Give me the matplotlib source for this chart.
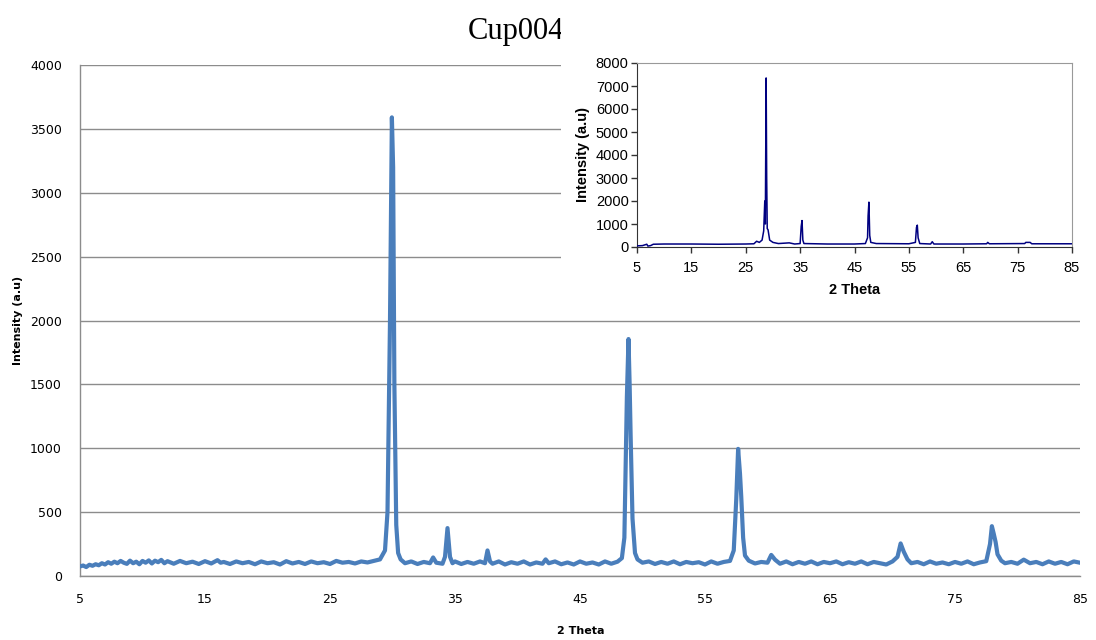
import matplotlib
matplotlib.use("Agg")
import matplotlib.pyplot as plt
from matplotlib.patches import Rectangle

# ---------------- main pattern (Cup004) ----------------
main_2theta = [
    5.0, 5.25, 5.5, 5.75, 6.0, 6.25, 6.5, 6.75, 7.0, 7.25, 7.5, 7.75, 8.0, 8.25, 8.5, 8.75,
    9.0, 9.25, 9.5, 9.75, 10.0, 10.25, 10.5, 10.75, 11.0, 11.25, 11.5, 11.75, 12.0, 12.5,
    13.0, 13.5, 14.0, 14.5, 15.0, 15.5, 16.0, 16.25, 16.5, 17.0, 17.5, 18.0, 18.5, 19.0,
    19.5, 20.0, 20.5, 21.0, 21.5, 22.0, 22.5, 23.0, 23.5, 24.0, 24.5, 25.0, 25.5, 26.0,
    26.5, 27.0, 27.5, 28.0, 28.5, 29.0, 29.4, 29.6, 29.8, 29.95, 30.05, 30.15, 30.3, 30.45,
    30.65, 31.0, 31.5, 32.0, 32.5, 33.0, 33.25, 33.5, 34.0, 34.2, 34.4, 34.6, 34.8, 35.0,
    35.5, 36.0, 36.5, 37.0, 37.4, 37.6, 37.8, 38.0, 38.5, 39.0, 39.5, 40.0, 40.5, 41.0,
    41.5, 42.0, 42.25, 42.5, 43.0, 43.5, 44.0, 44.5, 45.0, 45.5, 46.0, 46.5, 47.0, 47.5,
    48.0, 48.35, 48.55, 48.75, 48.88, 48.97, 49.05, 49.2, 49.4, 49.6, 50.0, 50.5, 51.0, 51.5,
    52.0, 52.5, 53.0, 53.5, 54.0, 54.5, 55.0, 55.5, 56.0, 56.5, 57.0, 57.3, 57.5, 57.65,
    57.8, 57.9, 58.05, 58.2, 58.5, 59.0, 59.5, 60.0, 60.3, 60.6, 61.0, 61.5, 62.0, 62.5,
    63.0, 63.5, 64.0, 64.5, 65.0, 65.5, 66.0, 66.5, 67.0, 67.5, 68.0, 68.5, 69.0, 69.5,
    70.0, 70.4, 70.65, 70.9, 71.2, 71.5, 72.0, 72.5, 73.0, 73.5, 74.0, 74.5, 75.0, 75.5,
    76.0, 76.5, 77.0, 77.5, 77.8, 77.95, 78.1, 78.25, 78.4, 78.7, 79.0, 79.5, 80.0, 80.5,
    81.0, 81.5, 82.0, 82.5, 83.0, 83.5, 84.0, 84.5, 85.0,
]
main_intensity = [
    75, 82, 70, 88, 80, 92, 84, 100, 90, 108, 96, 112, 100, 118, 104, 95,
    120, 100, 112, 92, 118, 104, 122, 98, 120, 108, 126, 100, 116, 96,
    118, 100, 112, 94, 116, 98, 124, 104, 110, 94, 114, 100, 110, 92,
    114, 100, 108, 90, 116, 98, 110, 94, 114, 100, 108, 94, 118, 104,
    110, 98, 114, 106, 118, 130, 200, 500, 2000, 3590, 3200, 1500, 400, 180,
    130, 100, 114, 94, 110, 100, 145, 104, 96, 150, 375, 150, 100, 114,
    94, 110, 96, 114, 100, 200, 114, 96, 114, 90, 108, 96, 114, 90,
    106, 96, 130, 100, 114, 92, 106, 90, 114, 96, 106, 90, 114, 96,
    112, 140, 300, 1400, 1855, 1500, 1100, 450, 180, 130, 104, 114, 94, 110,
    96, 114, 92, 110, 100, 108, 90, 114, 96, 110, 118, 200, 600, 995,
    800, 620, 300, 160, 120, 98, 110, 104, 165, 128, 96, 114, 92, 110,
    96, 114, 92, 110, 100, 114, 92, 108, 96, 114, 92, 110, 100, 90,
    114, 150, 255, 190, 130, 100, 110, 92, 114, 96, 106, 92, 110, 96,
    114, 92, 106, 116, 250, 390, 330, 265, 170, 120, 100, 110, 96, 128,
    100, 110, 92, 114, 96, 110, 92, 114, 104,
]

# ---------------- inset pattern (Standard Uncoated S728X300) ----------------
inset_2theta = [
    5.0, 6.0, 6.8, 7.0, 7.5, 8.0, 10.0, 15.0, 20.0, 25.0, 26.5, 27.0, 27.5, 28.0, 28.3,
    28.5, 28.6, 28.75, 28.85, 28.95, 29.1, 29.4, 30.0, 31.0, 33.0, 34.0, 35.0, 35.2,
    35.35, 35.5, 35.7, 40.0, 45.0, 47.0, 47.4, 47.5, 47.65, 47.8, 48.0, 49.0, 55.0,
    56.2, 56.4, 56.55, 56.7, 57.0, 59.0, 59.3, 59.6, 65.0, 69.3, 69.5, 69.8, 76.3, 76.5,
    77.3, 77.6, 85.0,
]
inset_intensity = [
    50, 60, 120, 40, 60, 120, 130, 130, 120, 130, 140, 250, 200, 300, 700,
    2000, 1000, 7350, 3000, 800, 750, 300, 200, 150, 180, 130, 150, 900,
    1150, 300, 150, 130, 130, 150, 400, 1350, 1950, 500, 200, 150, 140,
    200, 850, 950, 400, 150, 130, 230, 130, 130, 140, 200, 140, 150, 200,
    200, 140, 140,
]

main_xticks = [5, 15, 25, 35, 45, 55, 65, 75, 85]
main_yticks = [0, 500, 1000, 1500, 2000, 2500, 3000, 3500, 4000]
inset_yticks = [0, 1000, 2000, 3000, 4000, 5000, 6000, 7000, 8000]

W, H = 1096, 640
fig = plt.figure(figsize=(W / 100, H / 100), dpi=100)
fig.patch.set_facecolor("white")

# main axes
ax = fig.add_axes([80 / W, 1 - 576 / H, 1000 / W, 511 / H])
ax.plot(main_2theta, main_intensity, color="#4a7ebb", lw=3.0, solid_joinstyle="round", zorder=3)
ax.set_xlim(5, 85)
ax.set_ylim(0, 4000)
ax.set_xticks(main_xticks)
ax.set_yticks(main_yticks)
ax.grid(axis="y", color="#8c8c8c", lw=1.0)
ax.set_axisbelow(True)
for s in ["top", "right"]:
    ax.spines[s].set_visible(False)
for s in ["left", "bottom"]:
    ax.spines[s].set_color("#8c8c8c")
    ax.spines[s].set_linewidth(1.0)
ax.tick_params(length=0, labelsize=9, colors="#000000", pad=13)
ax.tick_params(axis="x", pad=12)
for lab in ax.get_xticklabels() + ax.get_yticklabels():
    lab.set_family("DejaVu Sans")
fig.text(18 / W, 1 - 320 / H, "Intensity (a.u)", rotation=90, ha="center", va="center",
         fontsize=8, fontweight="bold", family="DejaVu Sans")
fig.text(581 / W, 1 - 631 / H, "2 Theta", ha="center", va="center",
         fontsize=8, fontweight="bold", family="DejaVu Sans")
fig.text(516 / W, 1 - 32 / H, "Cup004", ha="center", va="center",
         fontsize=22, family="Liberation Serif")

# white panel behind inset
fig.patches.append(Rectangle((561 / W, 1 - 308 / H), (W - 561) / W, 308 / H,
                             transform=fig.transFigure, facecolor="white",
                             edgecolor="none", zorder=5))

# inset axes
ia = fig.add_axes([637 / W, 1 - 247 / H, 435 / W, 184 / H], zorder=6)
ia.plot(inset_2theta, inset_intensity, color="#000080", lw=1.1, zorder=3)
ia.set_xlim(5, 85)
ia.set_ylim(0, 8000)
ia.set_xticks(main_xticks)
ia.set_yticks(inset_yticks)
for s in ["top", "right"]:
    ia.spines[s].set_color("#999999")
for s in ["left", "bottom"]:
    ia.spines[s].set_color("#333333")
ia.tick_params(direction="out", length=4, width=1, labelsize=10.5, colors="#333333",
               labelcolor="#000000", pad=2)
ia.tick_params(axis="x", pad=6)
for lab in ia.get_xticklabels() + ia.get_yticklabels():
    lab.set_family("Liberation Sans")
ia.set_xlabel("2 Theta", fontsize=10.5, fontweight="bold", family="Liberation Sans", labelpad=6)
ia.set_ylabel("Intensity (a.u)", fontsize=10.5, fontweight="bold", family="Liberation Sans", labelpad=4)
fig.text(823 / W, 1 - 16 / H, "Standard Uncoated S728X300", ha="center", va="center",
         fontsize=12.5, fontweight="bold", family="Liberation Sans")

fig.savefig("out.png", dpi=100, facecolor="white")
